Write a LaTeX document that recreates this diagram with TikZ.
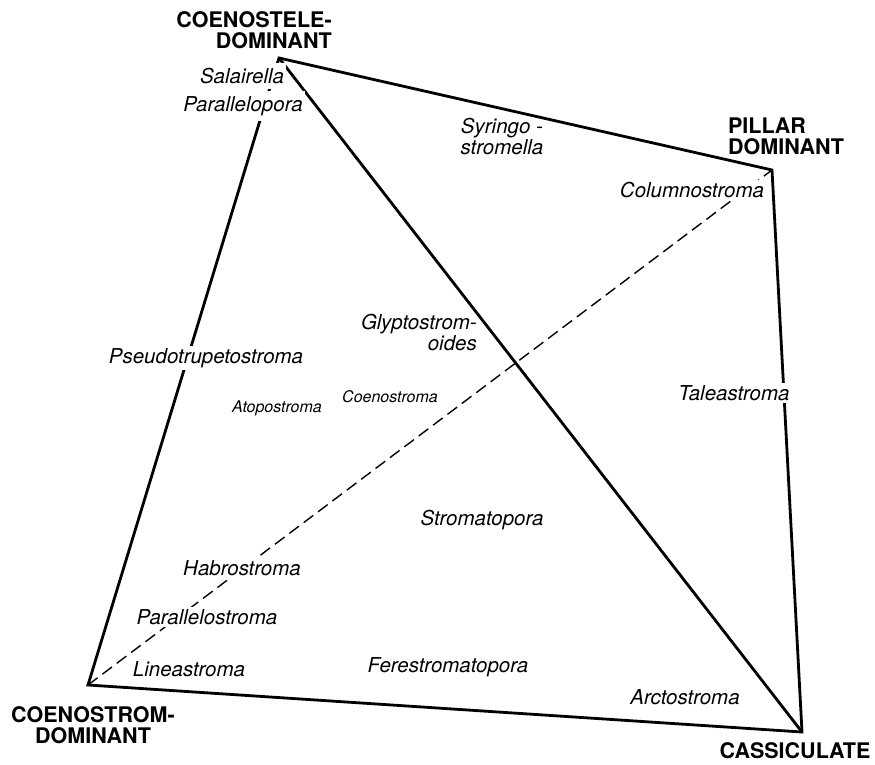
\documentclass[tikz,border=0pt]{standalone}
\usepackage{fontspec}
\setmainfont{TeX Gyre Heros}

\begin{document}
\begin{tikzpicture}[x = 1pt, y = -1pt,
	corner/.style = {font = \fontsize{21.5}{21}\selectfont\bfseries, inner sep = 0pt},
	genus/.style = {font = \fontsize{20.5}{21}\selectfont\itshape, inner sep = 2pt},
	small genus/.style = {genus, font = \fontsize{16}{18}\selectfont\itshape},
	gap/.style = {fill = white}]
\useasboundingbox (0, 0) rectangle (875, 764);

\coordinate (stele) at (279, 58);
\coordinate (pillar) at (772, 170);
\coordinate (cassic) at (802, 732);
\coordinate (strom) at (88, 685);

\draw [line width = 2.8pt, line join = miter] (strom) -- (stele) -- (pillar) -- (cassic) -- cycle;
\draw [line width = 2.8pt] (stele) -- (cassic);
\draw [line width = 1.4pt, dash pattern = on 12pt off 6pt] (strom) -- (pillar);

\node [corner, align = right] (stele label) at (254, 30) {COENOSTELE-\\DOMINANT};
\node [corner, align = left] (pillar label) at (786, 136) {PILLAR\\DOMINANT};
\node [corner, align = center] (strom label) at (93, 725) {COENOSTROM-\\DOMINANT};
\node [corner] (cassic label) at (795, 751) {CASSICULATE};

\node [genus, gap, inner ysep = 5pt] (salairella) at (242, 76) {Salairella};
\node [genus, gap, inner ysep = 5pt] (parallelopora) at (243, 106) {Parallelopora};
\node [genus, align = center] (syringo) at (502, 136) {Syringo -\\stromella};
\node [genus, gap] (columno) at (692, 190) {Columnostroma};
\node [genus, align = right, anchor = east] (glypto) at (479, 332) {Glyptostrom-\\oides};
\node [genus, gap] (pseudo) at (206, 358) {Pseudotrupetostroma};
\node [small genus] (atopo) at (277, 408) {Atopostroma};
\node [small genus] (coeno) at (390, 397) {Coenostroma};
\node [genus, gap] (taleo) at (734, 393) {Taleastroma};
\node [genus] (stromato) at (482, 520) {Stromatopora};
\node [genus, gap] (habro) at (242, 568) {Habrostroma};
\node [genus, gap] (parallelo) at (207, 617) {Parallelostroma};
\node [genus] (lineo) at (189, 669) {Lineastroma};
\node [genus] (feres) at (448, 667) {Ferestromatopora};
\node [genus] (arcto) at (685, 697) {Arctostroma};

\end{tikzpicture}
\end{document}
